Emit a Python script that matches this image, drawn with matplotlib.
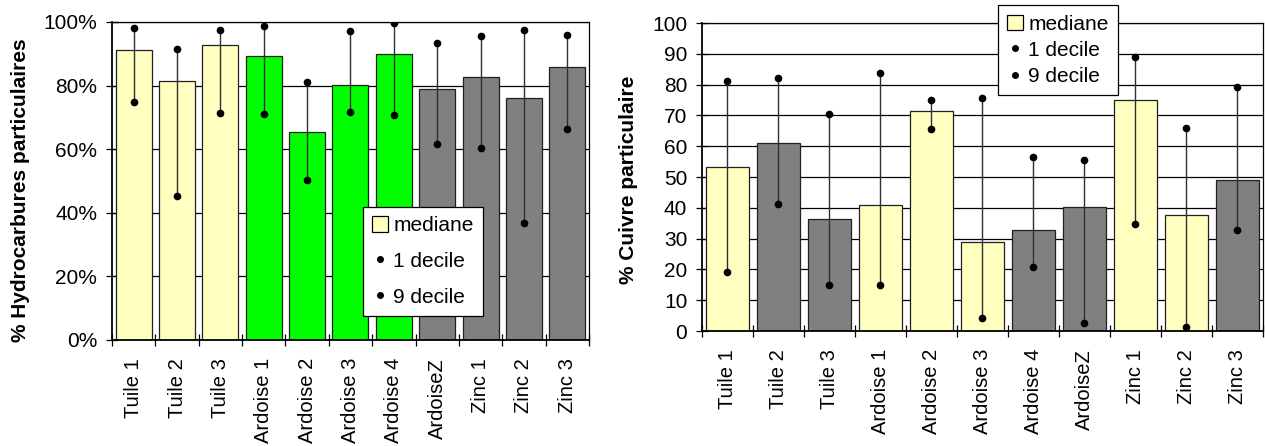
#!/usr/bin/env python3
"""Deux histogrammes: mediane + deciles (hydrocarbures / cuivre particulaires)."""

import matplotlib
matplotlib.use("Agg")
import matplotlib.pyplot as plt
import numpy as np
from matplotlib.lines import Line2D
from matplotlib.patches import Patch
from matplotlib.ticker import PercentFormatter

plt.rcParams["font.family"] = ["Liberation Sans", "DejaVu Sans"]
plt.rcParams["font.size"] = 15

categories = ["Tuile 1", "Tuile 2", "Tuile 3", "Ardoise 1", "Ardoise 2",
              "Ardoise 3", "Ardoise 4", "ArdoiseZ", "Zinc 1", "Zinc 2", "Zinc 3"]

# % hydrocarbures particulaires
hc_median = [91.3, 81.4, 92.8, 89.3, 65.5, 80.2, 89.9, 78.8, 82.7, 76.0, 85.7]
hc_d1 = [74.9, 45.3, 71.5, 71.0, 50.2, 71.8, 70.8, 61.6, 60.3, 36.7, 66.5]
hc_d9 = [98.1, 91.6, 97.5, 98.8, 81.2, 97.1, 99.8, 93.3, 95.6, 97.5, 95.9]
hc_colors = ["#FFFFC0"] * 3 + ["#00FF00"] * 4 + ["#808080"] * 4

# % cuivre particulaire
cu_median = [53.1, 61.0, 36.5, 41.0, 71.4, 29.0, 32.7, 40.2, 75.0, 37.6, 48.9]
cu_d1 = [19.2, 41.1, 15.0, 14.8, 65.6, 4.1, 20.9, 2.7, 34.8, 1.3, 32.8]
cu_d9 = [81.2, 82.3, 70.6, 83.7, 75.0, 75.5, 56.4, 55.4, 89.1, 66.0, 79.3]
cu_colors = ["#FFFFC0", "#808080", "#808080", "#FFFFC0", "#FFFFC0", "#FFFFC0",
             "#808080", "#808080", "#FFFFC0", "#FFFFC0", "#808080"]


def draw(ax, median, d1, d9, colors, ymax, step):
    x = np.arange(len(categories))
    ax.set_axisbelow(True)
    ax.yaxis.grid(True, color="black", linewidth=0.9)
    ax.bar(x, median, width=0.83, color=colors, edgecolor="#202020", linewidth=0.9, zorder=2)
    ax.vlines(x, d1, d9, color="#303030", linewidth=1.0, zorder=3)
    ax.plot(x, d1, "o", color="black", markersize=4.5, zorder=4)
    ax.plot(x, d9, "o", color="black", markersize=4.5, zorder=4)
    ax.set_xlim(-0.5, len(categories) - 0.5)
    ax.set_ylim(0, ymax)
    ax.set_yticks(np.arange(0, ymax + step / 2, step))
    ax.set_xticks(x)
    ax.set_xticklabels(categories, rotation=90, fontsize=14.5)
    ax.set_xticks(np.arange(-0.5, len(categories)), minor=True)
    ax.tick_params(axis="x", which="major", length=0, pad=13)
    ax.tick_params(axis="x", which="minor", length=9, direction="inout", width=0.9)
    ax.tick_params(axis="y", length=9, direction="inout", width=0.9, pad=6)
    for s in ax.spines.values():
        s.set_linewidth(0.9)
    ax.spines["left"].set_linewidth(1.3)
    ax.spines["bottom"].set_linewidth(1.3)


def legend(ax, **kw):
    handles = [
        Patch(facecolor="#FFFFC0", edgecolor="black", linewidth=0.9),
        Line2D([], [], marker="o", color="black", linestyle="none", markersize=4),
        Line2D([], [], marker="o", color="black", linestyle="none", markersize=4),
    ]
    leg = ax.legend(handles, ["mediane", "1 decile", "9 decile"], fancybox=False,
                    edgecolor="black", framealpha=1, handlelength=0.75,
                    handleheight=0.75, handletextpad=0.25, borderaxespad=0,
                    borderpad=0.45, **kw)
    leg.get_frame().set_linewidth(0.9)
    leg.set_zorder(10)
    return leg


fig = plt.figure(figsize=(12.65, 4.46), dpi=100)
ax1 = fig.add_axes([0.0885, 0.2377, 0.3771, 0.713])
ax2 = fig.add_axes([0.5549, 0.2578, 0.4435, 0.6906])

draw(ax1, hc_median, hc_d1, hc_d9, hc_colors, 100, 20)
ax1.yaxis.set_major_formatter(PercentFormatter(xmax=100, decimals=0))
ax1.set_ylabel("% Hydrocarbures particulaires", fontweight="bold")
ax1.yaxis.set_label_coords(-0.172, 0.47)
legend(ax1, loc="lower left", bbox_to_anchor=(0.526, 0.0755), labelspacing=0.8)

draw(ax2, cu_median, cu_d1, cu_d9, cu_colors, 100, 10)
ax2.set_ylabel("% Cuivre particulaire", fontweight="bold")
ax2.yaxis.set_label_coords(-0.114, 0.49)
legend(ax2, loc="upper left", bbox_to_anchor=(0.5276, 1.058), labelspacing=0.35)

fig.savefig("out.png", dpi=100)
